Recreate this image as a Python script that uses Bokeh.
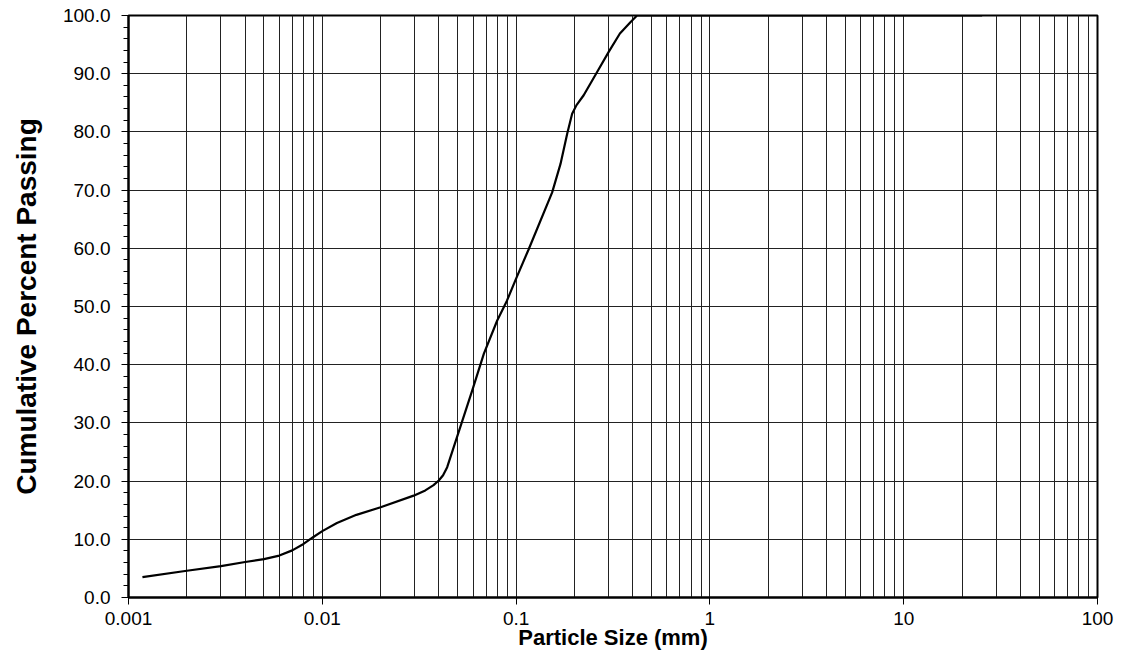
from bokeh.plotting import figure
from bokeh.models import Range1d, FixedTicker, SingleIntervalTicker, PrintfTickFormatter, CustomJSTickFormatter
from bokeh.embed import file_html
from bokeh.resources import INLINE

# Data
particle_size_mm = [0.00118, 0.002, 0.003, 0.004, 0.005, 0.006, 0.007, 0.008, 0.009, 0.010, 0.0119,
                    0.015, 0.020, 0.0296, 0.0340, 0.0375, 0.0399, 0.0420, 0.0441, 0.0495, 0.0594,
                    0.0682, 0.0799, 0.0897, 0.100, 0.116, 0.1535, 0.1695, 0.1835, 0.1946, 0.205,
                    0.2232, 0.2618, 0.300, 0.3433, 0.390, 0.4206, 25.4]
percent_passing = [3.5, 4.6, 5.4, 6.1, 6.6, 7.2, 8.1, 9.2, 10.4, 11.4, 12.8,
                   14.2, 15.5, 17.5, 18.4, 19.3, 20.1, 21.0, 22.4, 27.5, 35.6,
                   41.9, 47.6, 51.0, 54.8, 59.8, 69.6, 74.5, 79.7, 83.1, 84.6,
                   86.3, 90.3, 93.7, 96.9, 98.9, 100.0, 100.0]

x_major_ticks = [0.001, 0.01, 0.1, 1, 10, 100]
x_minor_ticks = [m * d for d in [0.001, 0.01, 0.1, 1, 10] for m in range(2, 10)]

FONT = "Liberation Sans"

p = figure(width=1125, height=657, x_axis_type="log",
           x_range=Range1d(0.001, 100), y_range=Range1d(0, 100),
           output_backend="svg", toolbar_location=None,
           min_border_left=128, min_border_right=28, min_border_top=15, min_border_bottom=60)

p.background_fill_color = "white"
p.border_fill_color = "white"
p.outline_line_color = "black"
p.outline_line_width = 2

# Axes
p.xaxis.ticker = FixedTicker(ticks=x_major_ticks, minor_ticks=x_minor_ticks)
p.xaxis.formatter = CustomJSTickFormatter(code="return Number(tick.toPrecision(6)).toString();")
p.yaxis.ticker = SingleIntervalTicker(interval=10, num_minor_ticks=5)
p.yaxis.formatter = PrintfTickFormatter(format="%.1f")

for ax in (p.xaxis, p.yaxis):
    ax.axis_line_color = "black"
    ax.axis_line_width = 2
    ax.major_tick_line_color = "black"
    ax.major_tick_line_width = 1
    ax.major_tick_out = 7
    ax.major_tick_in = 0
    ax.major_label_text_font = FONT
    ax.major_label_text_font_size = "19px"
    ax.major_label_text_color = "black"
    ax.axis_label_text_font = FONT
    ax.axis_label_text_font_style = "bold"
    ax.axis_label_text_color = "black"

p.xaxis.minor_tick_line_color = None
p.xaxis.major_label_standoff = 7
p.xaxis.axis_label = "Particle Size (mm)"
p.xaxis.axis_label_text_font_size = "22px"
p.xaxis.axis_label_standoff = -3

p.yaxis.minor_tick_line_color = "black"
p.yaxis.minor_tick_out = 5
p.yaxis.minor_tick_in = 0
p.yaxis.major_label_standoff = 11
p.yaxis.axis_label = "Cumulative Percent Passing"
p.yaxis.axis_label_text_font_size = "28px"
p.yaxis.axis_label_standoff = 18

# Grid
p.xgrid.grid_line_color = "#222222"
p.xgrid.grid_line_width = 1
p.xgrid.minor_grid_line_color = "#222222"
p.xgrid.minor_grid_line_width = 1
p.ygrid.grid_line_color = "#222222"
p.ygrid.grid_line_width = 1

p.line(particle_size_mm, percent_passing, line_color="black", line_width=2.2)

open("out.html", "w").write(file_html(p, INLINE))
